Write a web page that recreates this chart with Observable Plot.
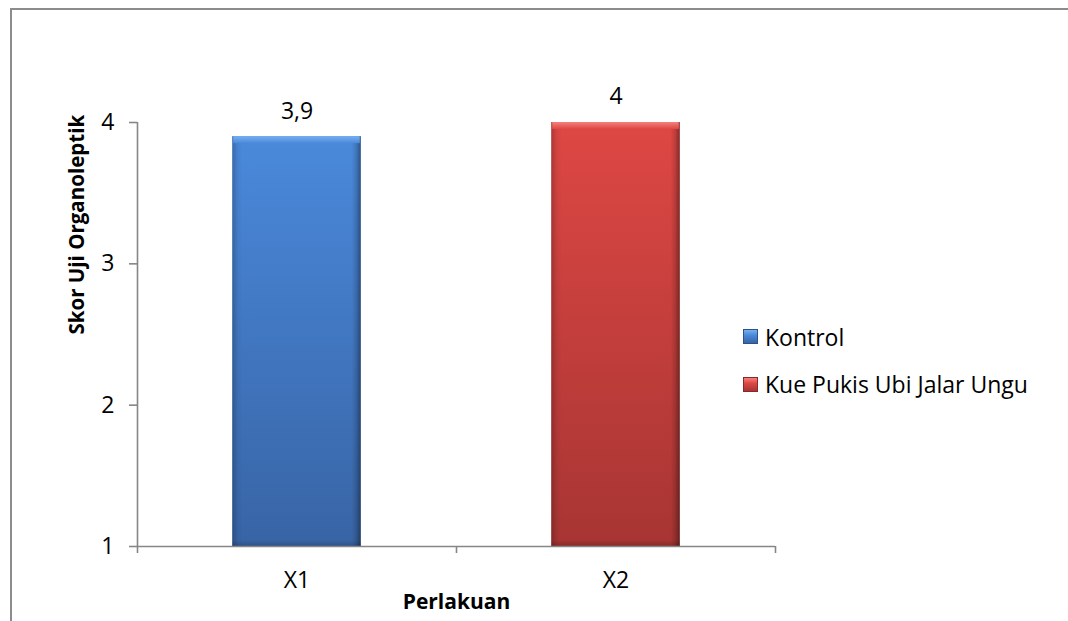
<!DOCTYPE html>
<html>
<head>
<meta charset="utf-8">
<script src="https://cdn.jsdelivr.net/npm/d3@7"></script>
<script src="https://cdn.jsdelivr.net/npm/@observablehq/plot@0.6"></script>
<style>
  html, body { margin: 0; padding: 0; background: #fff; }
  #wrap { position: relative; width: 1068px; height: 621px; overflow: hidden; font-family: "Open Sans", sans-serif; }
  #frame { position: absolute; left: 10px; top: 8px; width: 1100px; height: 700px; border-left: 2px solid #8c8c8c; border-top: 2px solid #8c8c8c; pointer-events: none; }
  #chart { position: absolute; left: 0; top: 0; }
  .legend-row { position: absolute; left: 743px; height: 30px; line-height: 30px; display: flex; align-items: center; font-size: 23px; color: #000; white-space: nowrap; }
  .swatch { width: 15px; height: 15px; margin-right: 7px; box-sizing: border-box; }
</style>
</head>
<body>
<div id="wrap">
  <div id="chart"></div>
  <div id="frame"></div>
</div>
<script>
// Organoleptic scores per treatment
const categories = ["X1", "X2"];
const seriesNames = ["Kontrol", "Kue Pukis Ubi Jalar Ungu"];
const scores = [3.9, 4];
const yTicks = [1, 2, 3, 4];
const yLabel = "Skor Uji Organoleptik";
const xLabel = "Perlakuan";

// Bar look: body gradient (top -> bottom), bevel highlight, edge shade
const palette = [
  {top: "#4a89db", bottom: "#3864a5", light: "#78afef", edge: "#2c5288"},
  {top: "#de4744", bottom: "#a73533", light: "#f4817d", edge: "#86292a"}
];

const W = 1068, H = 621;
const baseline = yTicks[0];
const halfBar = 0.2015;
const axisGray = "#868686";
const fontFamily = "'Open Sans', sans-serif";

const rows = categories.map((c, i) => ({index: i, category: c, series: seriesNames[i], score: scores[i]}));
const fmt = v => String(v).replace(".", ",");

// Gradient and shadow definitions used by the bar marks
function defsMark() {
  const ns = "http://www.w3.org/2000/svg";
  const defs = d3.create("svg:defs");
  palette.forEach((p, i) => {
    const g = defs.append("linearGradient").attr("id", `bar-body-${i}`).attr("x1", 0).attr("y1", 0).attr("x2", 0).attr("y2", 1);
    g.append("stop").attr("offset", "0%").attr("stop-color", p.top);
    g.append("stop").attr("offset", "100%").attr("stop-color", p.bottom);
    const t = defs.append("linearGradient").attr("id", `bar-top-${i}`).attr("x1", 0).attr("y1", 0).attr("x2", 0).attr("y2", 1);
    t.append("stop").attr("offset", "0%").attr("stop-color", p.light);
    t.append("stop").attr("offset", "100%").attr("stop-color", p.top);
  });
  const s = defs.append("linearGradient").attr("id", "bar-sides").attr("x1", 0).attr("y1", 0).attr("x2", 1).attr("y2", 0);
  [[0, 0.22], [0.045, 0.04], [0.08, 0], [0.93, 0], [0.965, 0.14], [1, 0.4]].forEach(([o, a]) =>
    s.append("stop").attr("offset", o).attr("stop-color", "#000").attr("stop-opacity", a));
  const b = defs.append("linearGradient").attr("id", "bar-bottom").attr("x1", 0).attr("y1", 0).attr("x2", 0).attr("y2", 1);
  b.append("stop").attr("offset", 0).attr("stop-color", "#000").attr("stop-opacity", 0);
  b.append("stop").attr("offset", 1).attr("stop-color", "#000").attr("stop-opacity", 0.18);
  const f = defs.append("filter").attr("id", "bar-shadow").attr("x", "-10%").attr("y", "-10%").attr("width", "125%").attr("height", "125%");
  f.append("feDropShadow").attr("dx", 2).attr("dy", 2).attr("stdDeviation", 2).attr("flood-color", "#000").attr("flood-opacity", 0.35);
  return defs.node();
}

const barMarks = rows.flatMap((r, i) => {
  const x1 = d => d.index - halfBar, x2 = d => d.index + halfBar;
  return [
    Plot.rectY([r], {x1, x2, y1: () => baseline, y2: "score", fill: `url(#bar-body-${i})`, ariaLabel: "bar-body"}),
    Plot.rectY([r], {x1, x2, y1: () => baseline, y2: "score", fill: "url(#bar-sides)"}),
    Plot.rectY([r], {x1, x2, y1: () => baseline, y2: () => baseline, insetTop: -6, fill: "url(#bar-bottom)"}),
    Plot.rectY([r], {x1, x2, y1: "score", y2: "score", insetBottom: -7, insetLeft: 1, insetRight: 1, fill: `url(#bar-top-${i})`})
  ];
});

const chart = Plot.plot({
  width: W,
  height: H,
  marginLeft: 137,
  marginRight: W - 775,
  marginTop: 122,
  marginBottom: 75,
  style: {fontFamily, color: "#000", background: "transparent"},
  x: {type: "linear", domain: [-0.5, categories.length - 0.5], label: null},
  y: {domain: [yTicks[0], yTicks[yTicks.length - 1]], label: null},
  marks: [
    defsMark,
    ...barMarks,
    Plot.ruleY([baseline], {stroke: axisGray, strokeWidth: 1.6}),
    Plot.ruleX([-0.5], {y1: yTicks[0], y2: yTicks[yTicks.length - 1], stroke: axisGray, strokeWidth: 1.6}),
    Plot.axisY({ticks: yTicks, tickSize: 8, tickPadding: 15, fontSize: 23, stroke: axisGray, strokeWidth: 1.6, fill: "#000", tickFormat: fmt, label: null}),
    Plot.axisX({ticks: categories.map((_, i) => i), tickFormat: i => categories[i], tickSize: 0, tickPadding: 25, fontSize: 23, fill: "#000", label: null}),
    Plot.axisX({ticks: d3.range(categories.length + 1).map(i => i - 0.5), tickFormat: () => "", tickSize: 7, stroke: axisGray, strokeWidth: 1.6, label: null}),
    Plot.text(rows, {x: "index", y: "score", text: d => fmt(d.score), dy: -25.5, fontSize: 23, fill: "#000"}),
    Plot.text([xLabel], {frameAnchor: "bottom", text: d => d, dy: 62, fontSize: 21, fontWeight: "bold", fill: "#000"}),
    Plot.text([yLabel], {frameAnchor: "left", text: d => d, rotate: -90, dx: -60, fontSize: 20.5, fontWeight: "bold", fill: "#000"})
  ]
});

d3.select(chart).selectAll('g[aria-label="bar-body"] rect').attr("filter", "url(#bar-shadow)");
document.getElementById("chart").appendChild(chart);

// Legend to the right of the plot area
const wrap = document.getElementById("wrap");
const legendTops = [321.5, 369];
seriesNames.forEach((name, i) => {
  const p = palette[i];
  const row = document.createElement("div");
  row.className = "legend-row";
  row.style.top = legendTops[i] + "px";
  const sw = document.createElement("div");
  sw.className = "swatch";
  sw.style.background = `linear-gradient(to bottom, ${p.light} 0%, ${p.top} 40%, ${p.bottom} 100%)`;
  sw.style.border = `1px solid ${p.edge}`;
  const label = document.createElement("span");
  label.textContent = name;
  row.appendChild(sw);
  row.appendChild(label);
  wrap.appendChild(row);
});
</script>
</body>
</html>
